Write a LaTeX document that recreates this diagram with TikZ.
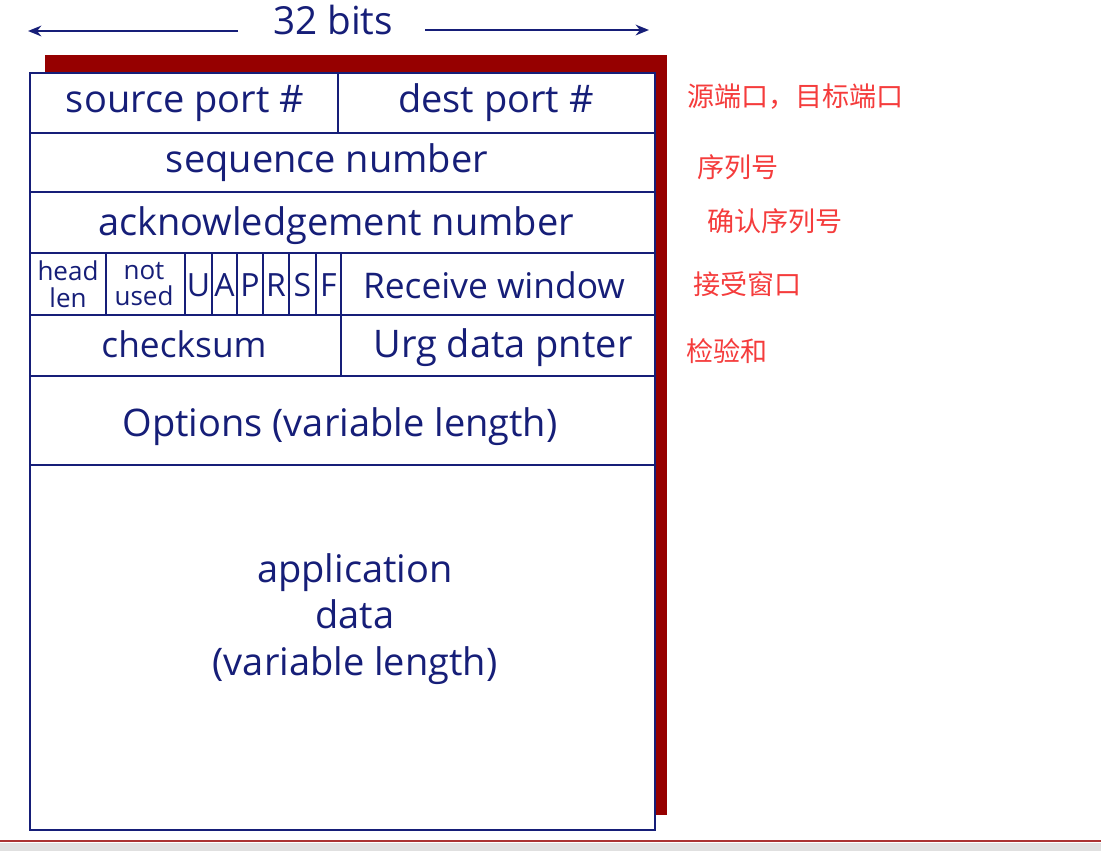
\documentclass[tikz,border=0pt]{standalone}
\usepackage{fontspec}
\setmainfont{Open Sans}
\newfontfamily\cjk{Noto Sans CJK SC}
\usetikzlibrary{arrows.meta}
\definecolor{navy}{RGB}{22,30,120}
\definecolor{shadowred}{RGB}{150,0,0}
\definecolor{cnred}{RGB}{245,60,60}
\tikzset{
  cell/.style={draw=navy, line width=2.2pt},
  lbl/.style={text=navy, font=\fontsize{28.5}{34}\selectfont, inner sep=0pt},
  lblnarrow/.style={lbl, font=\fontsize{26.5}{32}\selectfont},
  small/.style={text=navy, font=\fontsize{19.5}{21}\selectfont, inner sep=0pt, align=center},
  flag/.style={text=navy, font=\fontsize{24}{27}\selectfont, inner sep=0pt},
  cn/.style={text=cnred, font=\cjk\fontsize{20.3}{24}\selectfont, inner sep=0pt, anchor=west},
  bitarrow/.style={draw=navy, line width=2.2pt, -{Stealth[length=10pt,width=8pt]}}
}
\begin{document}
\begin{tikzpicture}[x=0.75pt,y=-0.75pt]
\useasboundingbox (0,0) rectangle (1101,851);
\fill[white] (0,0) rectangle (1101,851);
% bottom strip
\fill[black!12] (0,843) rectangle (1101,851);
\draw[shadowred!80, line width=1.8pt] (0,841) -- (1101,841);
% header arrow
\node[lbl, font=\fontsize{29}{34}\selectfont] (bits) at (333,20) {32 bits};
\coordinate (la) at (238,31);
\coordinate (lb) at (28,31);
\coordinate (ra) at (425,30);
\coordinate (rb) at (649,30);
\draw[bitarrow] (la) -- (lb);
\draw[bitarrow] (ra) -- (rb);
% shadow
\fill[shadowred] (45,55) rectangle (667,815);
\fill[white] (30,73) rectangle (655,830);
% cells
\draw[cell] (30,73) rectangle (338,133);
\draw[cell] (338,73) rectangle (655,133);
\draw[cell] (30,133) rectangle (655,192);
\draw[cell] (30,192) rectangle (655,253);
\draw[cell] (30,253) rectangle (106,315);
\draw[cell] (106,253) rectangle (185,315);
\draw[cell] (185,253) rectangle (212,315);
\draw[cell] (212,253) rectangle (237,315);
\draw[cell] (237,253) rectangle (263,315);
\draw[cell] (263,253) rectangle (289,315);
\draw[cell] (289,253) rectangle (316,315);
\draw[cell] (316,253) rectangle (341,315);
\draw[cell] (341,253) rectangle (655,315);
\draw[cell] (30,315) rectangle (341,376);
\draw[cell] (341,315) rectangle (655,376);
\draw[cell] (30,376) rectangle (655,465);
\draw[cell] (30,465) rectangle (655,830);
% texts
\node[lbl] (src) at (185,103) {source port \#};
\node[lbl] (dst) at (496,103) {dest port \#};
\node[lbl] (seq) at (327,163) {sequence number};
\node[lbl] (ack) at (336,226) {acknowledgement number};
\node[small] (hl) at (68,284) {head\\[-1pt]len};
\node[small] (nu) at (144,284) {not\\[-1pt]used};
\node[flag] (fu) at (198.5,285) {U};
\node[flag] (fa) at (224.5,285) {A};
\node[flag] (fp) at (250,285) {P};
\node[flag] (fr) at (276,285) {R};
\node[flag] (fs) at (302.5,285) {S};
\node[flag] (ff) at (328.5,285) {F};
\node[lblnarrow] (rw) at (494,285) {Receive window};
\node[lblnarrow] (cs) at (184,344) {checksum};
\node[lbl] (urg) at (503,348) {Urg data pnter};
\node[lbl] (opt) at (340,427) {Options (variable length)};
\node[lbl, align=center] (app) at (355,619) {application\\[1pt]data\\[1pt](variable length)};
% chinese labels
\node[cn] (c1) at (687,97) {源端口，目标端口};
\node[cn] (c2) at (697,167) {序列号};
\node[cn] (c3) at (707,221) {确认序列号};
\node[cn] (c4) at (693,284) {接受窗口};
\node[cn] (c5) at (686,351) {检验和};
\end{tikzpicture}
\end{document}
